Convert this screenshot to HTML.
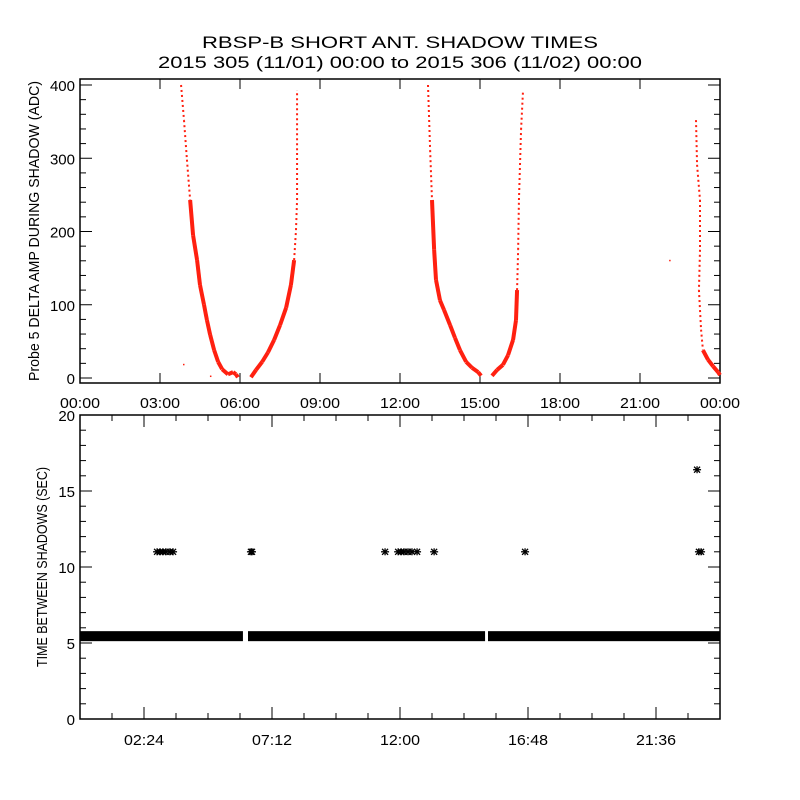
<!DOCTYPE html>
<html><head><meta charset="utf-8"><style>
body{margin:0;background:#fff}
svg{display:block}
text{font-family:"Liberation Sans",sans-serif;fill:#000}
</style></head><body>
<svg id="c" width="800" height="800" xmlns="http://www.w3.org/2000/svg">
<rect width="800" height="800" fill="#fff"/>
<text x="400" y="48" text-anchor="middle" font-size="17" textLength="396" lengthAdjust="spacingAndGlyphs">RBSP-B SHORT ANT. SHADOW TIMES</text>
<text x="400" y="68" text-anchor="middle" font-size="17" textLength="484" lengthAdjust="spacingAndGlyphs">2015 305 (11/01) 00:00 to 2015 306 (11/02) 00:00</text>
<g id="topPanel"></g>
<g id="botPanel"></g>
</svg>
<script>
// Top panel data: [hour, ADC]
const arc1 = [[3.79,400],[3.9,352],[4.01,298],[4.13,243],[4.24,195],[4.39,161],[4.5,127],[4.65,100],[4.76,79],[4.88,59],[5.03,38],[5.18,22],[5.33,12],[5.55,5],[5.74,8],[5.85,5],[5.92,1]];
const arc2 = [[6.41,1],[6.6,11],[6.83,22],[7.05,35],[7.28,52],[7.5,72],[7.73,96],[7.91,127],[8.03,161],[8.1,202],[8.14,243],[8.14,311],[8.14,393]];
const arc3 = [[13.05,400],[13.13,311],[13.2,243],[13.28,175],[13.35,134],[13.5,106],[13.65,93],[13.88,72],[14.06,55],[14.25,38],[14.48,22],[14.7,14],[14.93,8],[15.04,3]];
const arc4 = [[15.45,3],[15.64,11],[15.86,18],[16.05,31],[16.24,52],[16.35,79],[16.39,120],[16.43,175],[16.46,243],[16.54,339],[16.61,390]];
const arc5 = [[23.1,352],[23.14,291],[23.25,243],[23.25,175],[23.21,120],[23.29,66],[23.36,38],[23.55,25],[23.74,16],[23.93,8],[24,4]];
const isolated = [[22.13,160],[4.91,2],[3.9,18]];
const topYTicks = [0,100,200,300,400];
const topXTicks = ["00:00","03:00","06:00","09:00","12:00","15:00","18:00","21:00","00:00"];
// Bottom panel data
const bandSegments = [[0,6.11],[6.3,15.19],[15.3,24]];
const bandValue = 5.45;
const starHours = [2.89,3.0,3.11,3.22,3.37,3.49,6.41,6.45,11.44,11.93,12.04,12.15,12.3,12.45,12.64,13.28,16.69,23.21,23.29,23.14];
const starValues = [11,11,11,11,11,11,11,11,11,11,11,11,11,11,11,11,11,11,11,16.4];
const botYTicks = [0,5,10,15,20];
const botXTicks = ["02:24","07:12","12:00","16:48","21:36"];

const NS="http://www.w3.org/2000/svg";
function mk(p,t,a){const e=document.createElementNS(NS,t);for(const k in a)e.setAttribute(k,a[k]);p.appendChild(e);return e;}
const L=80,R=720;
const xs=h=>L+(R-L)*h/24;
const denseLimit=[260,200,260,130,60];
// TOP
const topG=document.getElementById('topPanel');
const tT=79,tB=383, y0=378, y400=85;
const ty=v=>y0+(y400-y0)*v/400;
let f=mk(topG,'rect',{x:L,y:tT,width:R-L,height:tB-tT,fill:'none',stroke:'#000','stroke-width':1.5});


for(let v=0;v<=400;v+=20){const y=ty(v);const len=v%100===0?12:6;
 mk(topG,'line',{x1:L,x2:L+len,y1:y,y2:y,stroke:'#000'});mk(topG,'line',{x1:R,x2:R-len,y1:y,y2:y,stroke:'#000'});}
topYTicks.forEach(v=>{const t=mk(topG,'text',{x:75,y:ty(v)+6,'text-anchor':'end','font-size':15});t.textContent=v;
 
 });
topXTicks.forEach((s,i)=>{const x=xs(i*3);mk(topG,'line',{x1:x,x2:x,y1:tB,y2:tB-10,stroke:'#000'});mk(topG,'line',{x1:x,x2:x,y1:tT,y2:tT+10,stroke:'#000'});
 const t=mk(topG,'text',{x:x,y:408,'text-anchor':'middle','font-size':15,textLength:40,lengthAdjust:'spacingAndGlyphs'});t.textContent=s;
 
 });
let yt=mk(topG,'text',{x:0,y:0,'text-anchor':'middle','font-size':15,transform:'translate(39,231) rotate(-90)',textLength:300,lengthAdjust:'spacingAndGlyphs'});
yt.textContent='Probe 5 DELTA AMP DURING SHADOW (ADC)';


[arc1,arc2,arc3,arc4,arc5].forEach((arc,ai)=>{
 const g=mk(topG,'g',{});
 
 
 for(let i=1;i<arc.length;i++){const a=arc[i-1],b=arc[i];const hi=Math.max(a[1],b[1])>denseLimit[ai];
  mk(g,'line',{x1:xs(a[0]),y1:ty(a[1]),x2:xs(b[0]),y2:ty(b[1]),stroke:'#ff2010','stroke-width':hi?2:4,'stroke-dasharray':hi?'2 3':'none'});}
});
isolated.forEach(p=>{const r=mk(topG,'rect',{x:xs(p[0])-1,y:ty(p[1])-1,width:1.5,height:1.5,fill:'#ff2010'});
 
 });
// BOTTOM
const botG=document.getElementById('botPanel');
const bT=415,bB=719;
const by=v=>bB+(bT-bB)*v/20;
f=mk(botG,'rect',{x:L,y:bT,width:R-L,height:bB-bT,fill:'none',stroke:'#000','stroke-width':1.5});


for(let v=0;v<=20;v+=1){const y=by(v);const len=v%5===0?12:6;
 mk(botG,'line',{x1:L,x2:L+len,y1:y,y2:y,stroke:'#000'});mk(botG,'line',{x1:R,x2:R-len,y1:y,y2:y,stroke:'#000'});}
botYTicks.forEach(v=>{const t=mk(botG,'text',{x:75,y:by(v)+6,'text-anchor':'end','font-size':15});t.textContent=v;
 
 });
for(let i=1;i<20;i++){const x=xs(i*1.2);const len=i%4===2?12:6;
 mk(botG,'line',{x1:x,x2:x,y1:bB,y2:bB-len,stroke:'#000'});mk(botG,'line',{x1:x,x2:x,y1:bT,y2:bT+len,stroke:'#000'});}
botXTicks.forEach((s,i)=>{const x=xs(2.4+i*4.8);const t=mk(botG,'text',{x:x,y:745,'text-anchor':'middle','font-size':15,textLength:40,lengthAdjust:'spacingAndGlyphs'});t.textContent=s;
 
 });
yt=mk(botG,'text',{x:0,y:0,'text-anchor':'middle','font-size':15,transform:'translate(47,567) rotate(-90)',textLength:200,lengthAdjust:'spacingAndGlyphs'});
yt.textContent='TIME BETWEEN SHADOWS (SEC)';


bandSegments.forEach(s=>{const r=mk(botG,'rect',{x:xs(s[0]),y:by(bandValue)-5,width:xs(s[1])-xs(s[0]),height:10,fill:'#000'});
 
 });
starHours.forEach((h,i)=>{const cx=xs(h),cy=by(starValues[i]);const g=mk(botG,'g',{stroke:'#000','stroke-width':1.3});
 
 
 mk(g,'line',{x1:cx-4,x2:cx+4,y1:cy,y2:cy});mk(g,'line',{x1:cx-3,x2:cx+3,y1:cy-3,y2:cy+3});mk(g,'line',{x1:cx-3,x2:cx+3,y1:cy+3,y2:cy-3});mk(g,'line',{x1:cx,x2:cx,y1:cy-3.5,y2:cy+3.5});});
</script>
</body></html>
